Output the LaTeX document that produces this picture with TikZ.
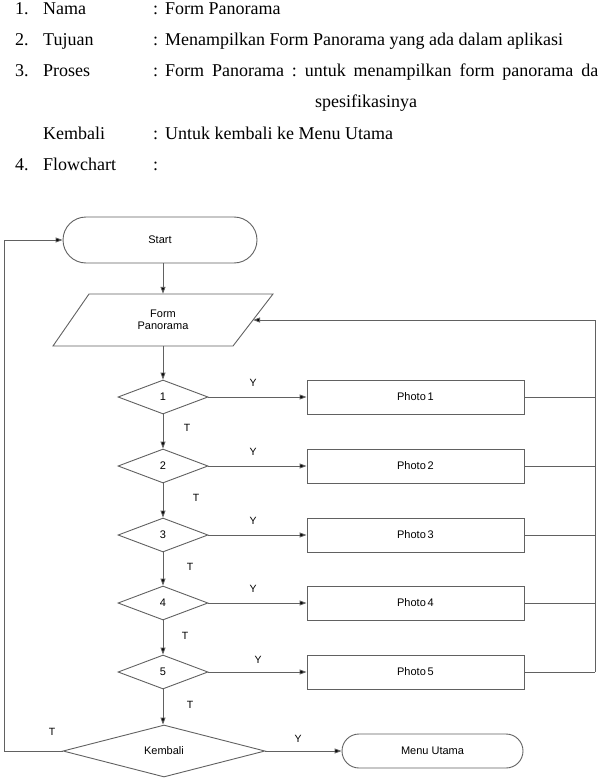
\documentclass[tikz,border=0pt]{standalone}
\usepackage{fontspec}
\setmainfont{Liberation Serif}
\newfontfamily\arialf{Liberation Sans}
\usetikzlibrary{shapes.geometric,arrows.meta}
\frenchspacing
\begin{document}
\begin{tikzpicture}[x=1pt,y=-1pt,
  ln/.style={draw=black!62, line width=0.9pt},
  arr/.style={ln, -{Triangle[length=7pt,width=5pt,fill=black]}},
  hd/.style={anchor=base west, inner sep=0pt, font=\fontsize{18}{21}\selectfont},
  fc/.style={font=\arialf\fontsize{11}{13}\selectfont},
  lab/.style={inner sep=0pt, font=\arialf\fontsize{10.5}{12}\selectfont},
  dec/.style={ln, fc, shape=diamond, minimum width=90pt, minimum height=34pt, inner sep=0pt},
  pbox/.style={ln, fc, rectangle, minimum width=217pt, minimum height=34pt, inner sep=0pt},
  term/.style={ln, fc, rectangle, rounded corners=17pt, inner sep=0pt}
]
\useasboundingbox (0,0) rectangle (600,778);

% header
\node[hd] (n1) at (15,15) {1.};
\node[hd] (l1) at (43,15) {Nama};
\node[hd] (c1) at (153,15) {:};
\node[hd] (v1) at (165,15) {Form Panorama};
\node[hd] (n2) at (15,46) {2.};
\node[hd] (l2) at (43,46) {Tujuan};
\node[hd] (c2) at (153,46) {:};
\node[hd] (v2) at (165,46) {Menampilkan Form Panorama yang ada dalam aplikasi};
\node[hd] (n3) at (15,77) {3.};
\node[hd] (l3) at (43,77) {Proses};
\node[hd] (c3) at (153,77) {:};
\node[hd] (v3) at (165,77) {\makebox[433pt][s]{Form Panorama : untuk menampilkan form panorama da}};
\node[hd] (v3b) at (315,108) {spesifikasinya};
\node[hd] (l4) at (43,140) {Kembali};
\node[hd] (c4) at (153,140) {:};
\node[hd] (v4) at (165,140) {Untuk kembali ke Menu Utama};
\node[hd] (n5) at (15,171) {4.};
\node[hd] (l5) at (43,171) {Flowchart};
\node[hd] (c5) at (153,171) {:};

% flowchart
\node[term, minimum width=194pt, minimum height=46pt, rounded corners=23pt] (start) at (160,240) {Start};
\draw[ln] (89,294) -- (273,294) -- (233,346) -- (53,346) -- cycle;
\node[fc, minimum width=180pt, minimum height=52pt, inner sep=0pt, align=center] (form) at (163,320) {Form\\[-1pt]Panorama};
\coordinate (formr) at (253,320);

\foreach \i/\y in {1/397,2/466,3/535,4/603,5/672}{
  \node[dec] (d\i) at (163,\y) {\i};
  \node[pbox] (p\i) at (415.5,\y) {Photo\,\i};
  \coordinate (b\i) at (595,\y);
  \draw[arr] (d\i.east) -- (p\i.west);
  \draw[ln] (p\i.east) -- (b\i);
}
\node[dec, minimum width=202pt, minimum height=52pt] (kem) at (164,751) {Kembali};
\node[term, minimum width=181pt, minimum height=34pt] (menu) at (432.5,751) {Menu Utama};

\coordinate (bt) at (595,320);
\coordinate (lb) at (4,751);
\coordinate (lt) at (4,240);

\draw[arr] (start.south -| form.north) -- (form.north);
\draw[arr] (form.south) -- (d1.north);
\draw[arr] (d1.south) -- (d2.north);
\draw[arr] (d2.south) -- (d3.north);
\draw[arr] (d3.south) -- (d4.north);
\draw[arr] (d4.south) -- (d5.north);
\draw[arr] (d5.south) -- (kem.north -| d5.south);
\draw[arr] (kem.east) -- (menu.west);
\draw[arr] (b5) -- (bt) -- (formr);
\draw[arr] (kem.west) -- (lb) -- (lt) -- (start.west);

% labels
\node[lab] (y1) at (253,383) {Y};
\node[lab] (t1) at (187,428) {T};
\node[lab] (y2) at (253,452) {Y};
\node[lab] (t2) at (196,498) {T};
\node[lab] (y3) at (253,521) {Y};
\node[lab] (t3) at (190,567) {T};
\node[lab] (y4) at (253,589) {Y};
\node[lab] (t4) at (185,636) {T};
\node[lab] (y5) at (258,660) {Y};
\node[lab] (t5) at (190,705) {T};
\node[lab] (tk) at (52,732) {T};
\node[lab] (yk) at (298,739) {Y};
\end{tikzpicture}
\end{document}
